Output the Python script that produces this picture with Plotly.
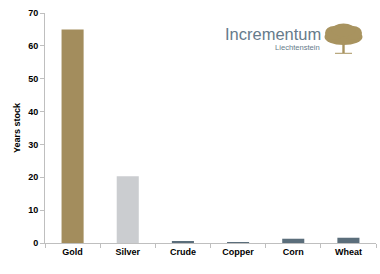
import plotly.graph_objects as go

categories = ["Gold", "Silver", "Crude", "Copper", "Corn", "Wheat"]
years_stock = [65.0, 20.3, 0.45, 0.3, 1.3, 1.6]
bar_colors = ["#A38D5D", "#CBCDD0", "#5B6E7B", "#5B6E7B", "#5B6E7B", "#5B6E7B"]
y_ticks = [0, 10, 20, 30, 40, 50, 60, 70]

W, H = 380, 274
L, R, T, B = 45, 4, 13, 31

fig = go.Figure(go.Bar(
    x=categories, y=years_stock, marker_color=bar_colors,
    marker_line_width=0, width=0.4,
))

font = dict(family="Liberation Sans, Arial, sans-serif", size=9, color="#000000", weight="bold")
logo_font = "Liberation Sans, Arial, sans-serif"

def px(x, y):
    # convert page pixel to paper coords
    return (x - L) / (W - L - R), (H - B - y) / (H - T - B)

shapes = []
tree_col = "#A8935F"
# canopy made of ellipses
for (cx, cy, rx, ry) in [(343.5, 37, 19, 8), (334, 33, 9, 7), (353, 33, 9, 7), (343.5, 30, 12, 6.5)]:
    x0, y0 = px(cx - rx, cy + ry)
    x1, y1 = px(cx + rx, cy - ry)
    shapes.append(dict(type="circle", xref="paper", yref="paper", x0=x0, y0=y0, x1=x1, y1=y1,
                       fillcolor=tree_col, line_width=0, layer="above"))
x0, y0 = px(342.3, 53)
x1, y1 = px(344.7, 43)
shapes.append(dict(type="rect", xref="paper", yref="paper", x0=x0, y0=y0, x1=x1, y1=y1,
                   fillcolor=tree_col, line_width=0))
x0, y0 = px(335, 53.8)
x1, y1 = px(352, 52.8)
shapes.append(dict(type="rect", xref="paper", yref="paper", x0=x0, y0=y0, x1=x1, y1=y1,
                   fillcolor=tree_col, line_width=0))

ax1, ay1 = px(323, 34)
ax2, ay2 = px(322, 47)

fig.update_layout(
    width=W, height=H,
    margin=dict(l=L, r=R, t=T, b=B),
    paper_bgcolor="white", plot_bgcolor="white",
    showlegend=False,
    font=font,
    xaxis=dict(
        showline=True, linecolor="#BFBFBF", linewidth=1,
        ticks="outside", tickson="boundaries", ticklen=4, tickcolor="#BFBFBF",
        tickfont=font, showgrid=False,
    ),
    yaxis=dict(
        range=[0, 70], tickvals=y_ticks, showline=True, linecolor="#BFBFBF", linewidth=1,
        ticks="outside", ticklen=4, tickcolor="#BFBFBF", showgrid=False, zeroline=False,
        tickfont=font, title=dict(text="Years stock", font=font, standoff=6),
    ),
    shapes=shapes,
    annotations=[
        dict(text="Incrementum", xref="paper", yref="paper", x=ax1, y=ay1,
             xanchor="right", yanchor="middle", showarrow=False,
             font=dict(family=logo_font, size=16.5, color="#667B8B", weight="normal")),
        dict(text="Liechtenstein", xref="paper", yref="paper", x=ax2, y=ay2,
             xanchor="right", yanchor="middle", showarrow=False,
             font=dict(family=logo_font, size=7.6, color="#667B8B", weight="normal")),
    ],
)

fig.write_html("out.html")
